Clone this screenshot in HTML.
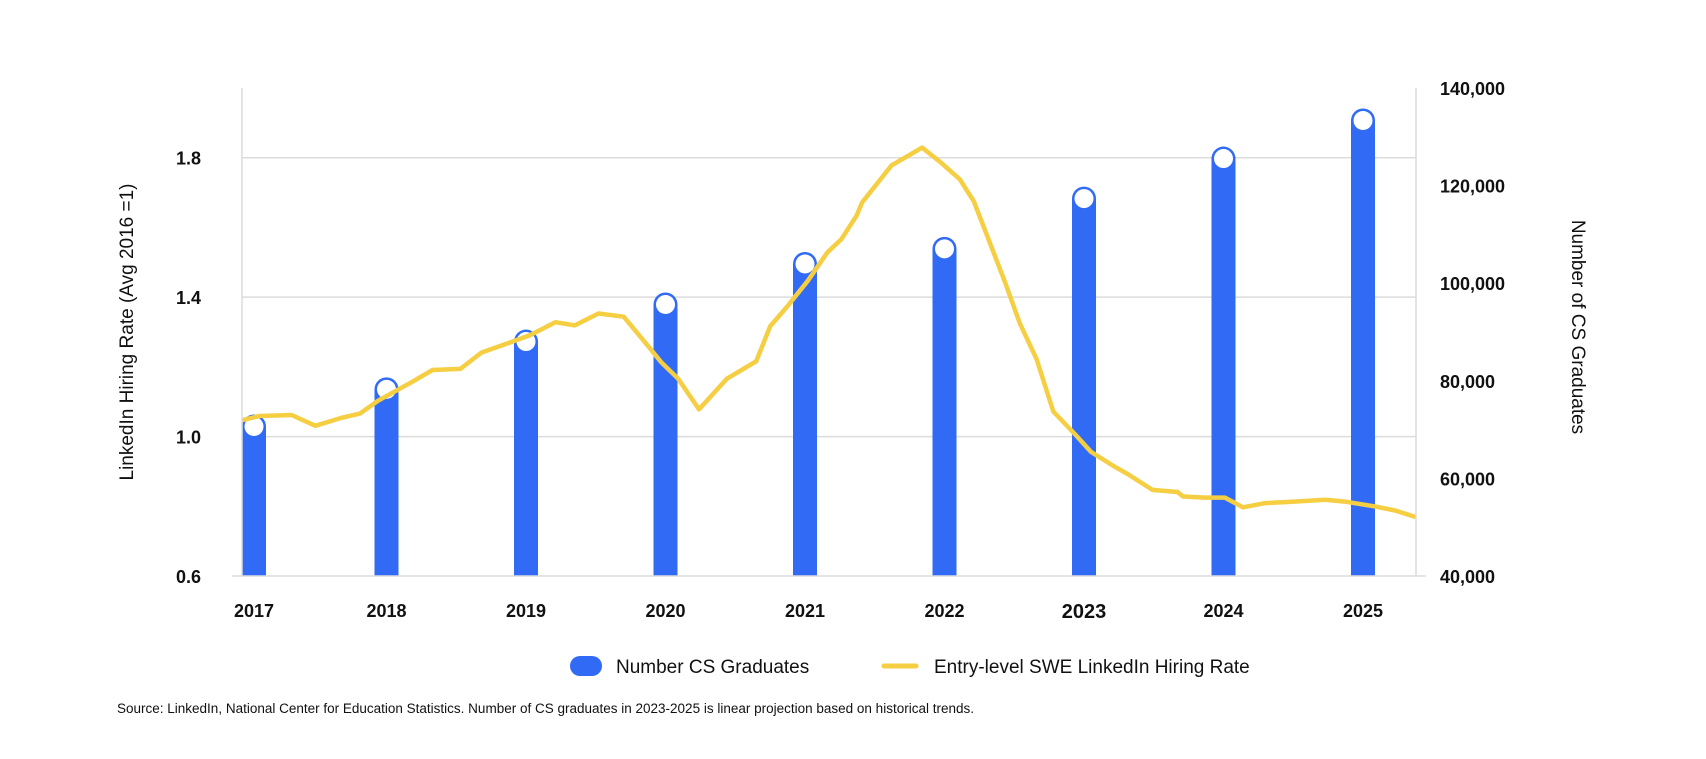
<!DOCTYPE html>
<html><head><meta charset="utf-8"><style>
body{margin:0;background:#fff;width:1706px;height:754px;overflow:hidden;font-family:"Liberation Sans",sans-serif;}
svg text{font-family:"Liberation Sans",sans-serif;}
</style></head><body>
<svg id="chart" width="1706" height="754" xmlns="http://www.w3.org/2000/svg">
<g id="grid"></g>
<g id="bars"></g>
<g id="line"></g>
<g id="axes"></g>
<text transform="translate(133,332) rotate(-90)" text-anchor="middle" font-size="19" fill="#111">LinkedIn Hiring Rate (Avg 2016 =1)</text>
<text transform="translate(1572,327) rotate(90)" text-anchor="middle" font-size="19" fill="#111">Number of CS Graduates</text>
<g>
<g><rect x="570" y="656" width="32" height="20" rx="10" fill="#316BF5"/><text x="616" y="673" font-size="19" fill="#111">Number CS Graduates</text></g>
<g><line x1="884" y1="666" x2="916" y2="666" stroke="#F5CE42" stroke-width="5" stroke-linecap="round"/><text x="934" y="673" font-size="19" fill="#111">Entry-level SWE LinkedIn Hiring Rate</text></g>
</g>
<text x="117" y="713" font-size="13.5" fill="#111">Source: LinkedIn, National Center for Education Statistics. Number of CS graduates in 2023-2025 is linear projection based on historical trends.</text>
</svg>
<script>
const years=[2017,2018,2019,2020,2021,2022,2023,2024,2025];
const graduates=[73100,80700,90500,98100,106400,109500,119800,128000,135800];
const lineYears=[2016.95,2017.09,2017.32,2017.49,2017.67,2017.81,2017.94,2018.18,2018.33,2018.53,2018.68,2018.88,2019.03,2019.21,2019.35,2019.52,2019.70,2019.85,2019.97,2020.09,2020.24,2020.44,2020.65,2020.75,2020.87,2021.02,2021.16,2021.26,2021.37,2021.41,2021.51,2021.62,2021.84,2021.98,2022.11,2022.21,2022.31,2022.43,2022.54,2022.66,2022.78,2022.93,2023.05,2023.21,2023.32,2023.49,2023.67,2023.71,2023.87,2024.01,2024.14,2024.30,2024.49,2024.73,2024.88,2025.08,2025.23,2025.40];
const hiringRate=[1.047,1.059,1.062,1.031,1.053,1.066,1.103,1.156,1.191,1.194,1.241,1.269,1.291,1.328,1.319,1.353,1.344,1.272,1.213,1.166,1.078,1.166,1.216,1.316,1.372,1.447,1.528,1.566,1.634,1.672,1.722,1.778,1.829,1.784,1.738,1.675,1.572,1.447,1.325,1.222,1.072,1.009,0.956,0.916,0.891,0.847,0.841,0.828,0.825,0.825,0.797,0.809,0.813,0.819,0.813,0.800,0.788,0.769];
const leftTicks=[0.6,1.0,1.4,1.8];
const leftTickLabels=["0.6","1.0","1.4","1.8"];
const rightTicks=[40000,60000,80000,100000,120000,140000];
const rightTickLabels=["40,000","60,000","80,000","100,000","120,000","140,000"];

const L=242,R=1416,T=88,B=576;
const xS=y=>247+(y-2017)*139.5;
const yL=v=>B-(v-0.6)/1.4*(B-T);
const yR=v=>B-(v-40000)/100000*(B-T);
const NS="http://www.w3.org/2000/svg";
function mk(tag,attrs,parent){const e=document.createElementNS(NS,tag);for(const k in attrs)e.setAttribute(k,attrs[k]);parent.appendChild(e);return e;}
const grid=document.getElementById('grid'),bars=document.getElementById('bars'),line=document.getElementById('line'),axes=document.getElementById('axes');

leftTicks.forEach((t,i)=>{
  const y=yL(t);
  if(i>0){const g=mk('line',{x1:L,x2:R,y1:y,y2:y,stroke:'#dcdcdc','stroke-width':1.5},grid);
  
  }
  const tx=mk('text',{x:201,y:y+7,'text-anchor':'end','font-size':18,'font-weight':'bold',fill:'#111'},axes);
  tx.textContent=leftTickLabels[i];
  
  
});
rightTicks.forEach((t,i)=>{
  const tx=mk('text',{x:1440,y:yR(t)+7,'font-size':18,'font-weight':'bold',fill:'#111'},axes);
  tx.textContent=rightTickLabels[i];
  
  
});
let a=mk('line',{x1:L,x2:L,y1:T,y2:B,stroke:'#dcdcdc','stroke-width':1.5},axes);


a=mk('line',{x1:R,x2:R,y1:T,y2:B,stroke:'#dcdcdc','stroke-width':1.5},axes);


a=mk('line',{x1:232,x2:1426,y1:B,y2:B,stroke:'#dcdcdc','stroke-width':1.5},axes);



years.forEach((yr,i)=>{
  const w=24;
  const cx=Math.max(xS(yr),L+w/2),top=yR(graduates[i]);
  const p=mk('path',{d:`M${cx-w/2},${B} L${cx-w/2},${top+w/2} A${w/2},${w/2} 0 0 1 ${cx+w/2},${top+w/2} L${cx+w/2},${B} Z`,fill:'#316BF5'},bars);
  
  
  const c=mk('circle',{cx:cx,cy:top+12,r:9.5,fill:'#fff'},bars);
  
  
  const tx=mk('text',{x:cx,y:yr===2023?618:617,'text-anchor':'middle','font-size':yr===2023?20:18,'font-weight':'bold',fill:'#111'},axes);
  tx.textContent=yr;
  
  
});
const pts=lineYears.map((y,i)=>Math.min(R,Math.max(L,xS(y))).toFixed(1)+','+yL(hiringRate[i]).toFixed(1)).join(' ');
const pl=mk('polyline',{points:pts,fill:'none',stroke:'#F5CE42','stroke-width':4.5,'stroke-linejoin':'round'},line);


</script>
</body></html>
